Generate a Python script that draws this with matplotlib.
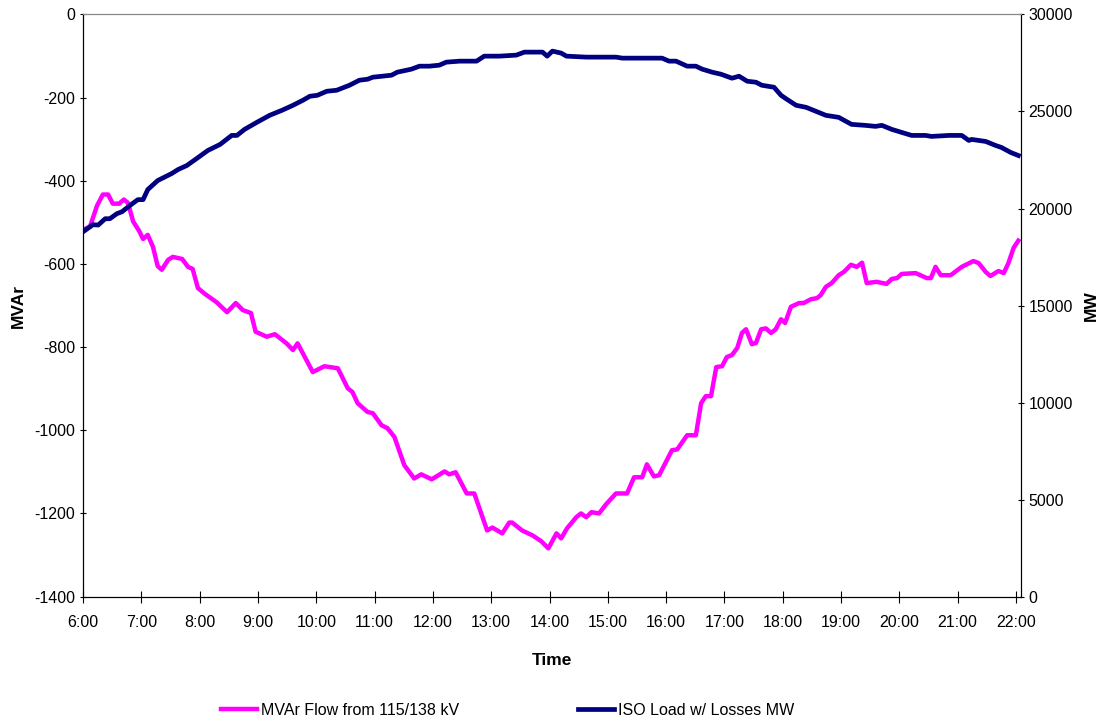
import matplotlib
matplotlib.use("Agg")
import matplotlib.pyplot as plt
from matplotlib.lines import Line2D

plt.rcParams['font.family'] = ['Liberation Sans', 'DejaVu Sans']
plt.rcParams['axes.unicode_minus'] = False

# MVAr flow (hours of day, MVAr)
time_mvar = [6.00, 6.12, 6.24, 6.34, 6.43, 6.51, 6.62, 6.70, 6.77, 6.86, 6.96, 7.03, 7.11, 7.20,
             7.28, 7.35, 7.46, 7.54, 7.70, 7.80, 7.88, 7.97, 8.09, 8.29, 8.47, 8.62, 8.74, 8.88,
             8.96, 9.15, 9.29, 9.49, 9.60, 9.68, 9.94, 10.14, 10.37, 10.54, 10.62, 10.71, 10.88,
             10.97, 11.12, 11.22, 11.34, 11.51, 11.68, 11.80, 11.98, 12.20, 12.28, 12.39, 12.58,
             12.71, 12.93, 13.02, 13.19, 13.31, 13.36, 13.53, 13.71, 13.86, 13.98, 14.12, 14.20,
             14.30, 14.46, 14.54, 14.63, 14.72, 14.85, 14.97, 15.14, 15.33, 15.45, 15.59, 15.67,
             15.79, 15.88, 16.10, 16.19, 16.36, 16.51, 16.60, 16.68, 16.77, 16.86, 16.96, 17.04,
             17.13, 17.22, 17.30, 17.37, 17.47, 17.54, 17.63, 17.71, 17.80, 17.88, 17.97, 18.04,
             18.14, 18.28, 18.36, 18.48, 18.59, 18.65, 18.74, 18.84, 18.96, 19.05, 19.17, 19.27,
             19.36, 19.44, 19.61, 19.78, 19.87, 19.96, 20.04, 20.28, 20.47, 20.54, 20.62, 20.71,
             20.88, 21.07, 21.27, 21.36, 21.48, 21.56, 21.70, 21.79, 21.87, 21.96, 22.04]
mvar = [-518, -510, -460, -433, -433, -455, -455, -445, -453, -498, -520, -540, -530, -559,
        -605, -614, -590, -583, -588, -607, -612, -658, -672, -692, -716, -694, -711, -718,
        -763, -775, -769, -791, -807, -791, -860, -846, -851, -899, -908, -935, -956,
        -959, -988, -995, -1016, -1084, -1116, -1106, -1118, -1099, -1106, -1101, -1152,
        -1152, -1241, -1234, -1248, -1222, -1222, -1241, -1253, -1267, -1284, -1248, -1260,
        -1236, -1209, -1200, -1209, -1197, -1200, -1178, -1152, -1152, -1113, -1113, -1082,
        -1111, -1108, -1048, -1046, -1012, -1012, -935, -918, -918, -848, -846, -824,
        -819, -802, -766, -757, -793, -790, -757, -755, -766, -757, -733, -742,
        -703, -694, -694, -685, -682, -675, -655, -646, -627, -619, -602, -607,
        -597, -646, -643, -648, -636, -634, -624, -622, -634, -634, -607, -627,
        -627, -607, -593, -598, -619, -629, -617, -622, -598, -561, -544]

# ISO load with losses (hours of day, MW)
time_mw = [6.00, 6.17, 6.26, 6.38, 6.46, 6.58, 6.67, 6.80, 6.94, 7.03, 7.11, 7.28, 7.52, 7.63,
           7.78, 7.95, 8.14, 8.35, 8.55, 8.64, 8.77, 8.98, 9.20, 9.41, 9.60, 9.77, 9.89, 10.02,
           10.18, 10.35, 10.57, 10.74, 10.88, 10.97, 11.29, 11.39, 11.63, 11.77, 11.94, 12.11,
           12.23, 12.46, 12.75, 12.88, 13.14, 13.43, 13.57, 13.88, 13.96, 14.05, 14.20, 14.29,
           14.63, 15.14, 15.25, 15.93, 16.05, 16.17, 16.36, 16.51, 16.62, 16.79, 16.94, 17.13,
           17.25, 17.39, 17.54, 17.64, 17.85, 17.97, 18.07, 18.23, 18.40, 18.57, 18.74, 18.96,
           19.18, 19.42, 19.59, 19.70, 19.87, 20.04, 20.21, 20.45, 20.55, 20.85, 21.07, 21.19,
           21.24, 21.48, 21.65, 21.75, 21.91, 22.04]
mw = [18800, 19164, 19147, 19474, 19474, 19733, 19836, 20147, 20457, 20457, 20974, 21440, 21802, 22009,
      22216, 22578, 22991, 23302, 23767, 23767, 24078, 24440, 24802, 25060, 25319, 25578, 25785, 25836,
      26043, 26095, 26353, 26612, 26664, 26767, 26870, 27026, 27181, 27336, 27336, 27388,
      27543, 27595, 27595, 27853, 27853, 27905, 28060, 28060, 27853, 28112, 28009, 27853,
      27802, 27802, 27750, 27750, 27595, 27595, 27336, 27336, 27181, 27026, 26922, 26715,
      26819, 26560, 26509, 26353, 26250, 25836, 25629, 25319, 25215, 25009, 24802, 24698,
      24336, 24285, 24233, 24285, 24078, 23922, 23767, 23767, 23715, 23767, 23767, 23509,
      23560, 23457, 23250, 23147, 22888, 22733]

hours = list(range(6, 23))
hour_labels = [f"{h}:00" for h in hours]

fig = plt.figure(figsize=(11.07, 7.24), dpi=100)
ax = fig.add_axes([0.075, 0.176, 0.847, 0.804])
ax2 = ax.twinx()

ax.plot(time_mvar, mvar, color='#FF00FF', lw=3.2, solid_joinstyle='round')
ax2.plot(time_mw, mw, color='#000080', lw=3.4, solid_joinstyle='round')

ax.set_xlim(6.0, 22.08)
ax.set_ylim(-1400, 0)
ax2.set_ylim(0, 30000)
ax.set_xticks(hours)
ax.set_xticklabels(hour_labels)
ax.set_yticks(range(-1400, 1, 200))
ax2.set_yticks(range(0, 30001, 5000))

for a in (ax, ax2):
    a.tick_params(direction='inout', labelsize=11.5, width=0.8)
    a.spines['top'].set_color('#888888')
    a.spines['top'].set_linewidth(0.8)
ax.tick_params(axis='x', length=9, pad=9)
ax.tick_params(axis='y', length=5, pad=3)
ax2.tick_params(axis='y', length=5, pad=3)

ax.set_ylabel('MVAr', fontweight='bold', fontsize=12.5, labelpad=6)
ax2.set_ylabel('MW', fontweight='bold', fontsize=12.5, labelpad=8)
ax.set_xlabel('Time', fontweight='bold', fontsize=12.5, labelpad=16)

handles = [Line2D([], [], color='#FF00FF', lw=3.2), Line2D([], [], color='#000080', lw=3.4)]
fig.legend(handles, ['MVAr Flow from 115/138 kV', 'ISO Load w/ Losses MW'],
           loc='center left', bbox_to_anchor=(0.2, 0.019), ncol=2, frameon=False,
           fontsize=11.5, handlelength=2.25, handletextpad=0.25, columnspacing=7.4,
           borderpad=0, borderaxespad=0)

fig.savefig('out.png', dpi=100)
